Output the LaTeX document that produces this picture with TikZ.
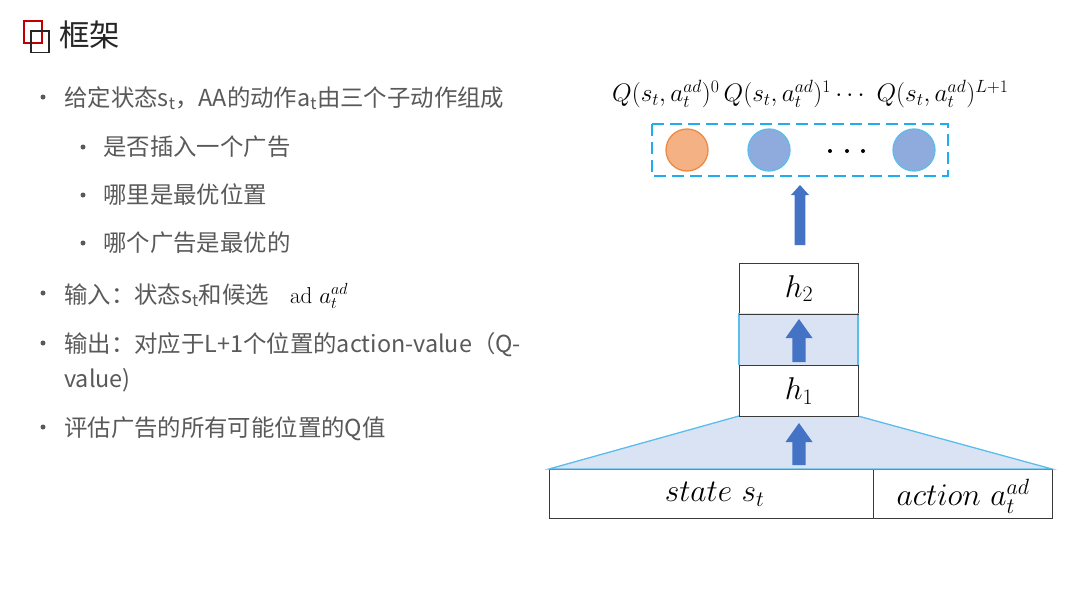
\RequirePackage{fix-cm}
\documentclass[tikz,border=0pt]{standalone}
\usepackage{fontspec}
\newfontfamily\cjk{Noto Sans CJK SC}
\definecolor{txtgray}{HTML}{595959}
\definecolor{titleblack}{HTML}{262626}
\definecolor{iconred}{HTML}{C00000}
\definecolor{boxline}{HTML}{3A3A3A}
\definecolor{cyanline}{HTML}{5BBDEB}
\definecolor{dashcyan}{HTML}{1FAEEB}
\definecolor{shadefill}{HTML}{DAE3F3}
\definecolor{arrowblue}{HTML}{4472C4}
\definecolor{orfill}{HTML}{F4B183}
\definecolor{orline}{HTML}{ED8A45}
\definecolor{blfill}{HTML}{8FAADC}
\newcommand\bluearrow[6]{%
  \fill[arrowblue] ({#1-#4},#3) -- ({#1-#4},{#2+#6}) -- ({#1-#5},{#2+#6}) -- (#1,#2)
    -- ({#1+#5},{#2+#6}) -- ({#1+#4},{#2+#6}) -- ({#1+#4},#3) -- cycle;}
\begin{document}
\begin{tikzpicture}[x=1pt,y=-1pt,
  txt/.style={anchor=base west, inner sep=0pt, text=txtgray, font=\cjk\fontsize{23.4}{28}\selectfont},
  bul/.style={fill=txtgray},
  layer/.style={draw=boxline, line width=1.3pt, fill=white},
  lbl/.style={inner sep=0pt, font=\fontsize{31.5}{36}\selectfont},
  qnode/.style={circle, minimum size=42pt, inner sep=0pt, line width=1.3pt},
]
\useasboundingbox (0,0) rectangle (1080,608);
\fill[white] (0,0) rectangle (1080,608);

% title
\draw[iconred, line width=1.6pt] (24,21) rectangle (42,43);
\draw[titleblack, line width=1.6pt] (31,31) rectangle (49,52.5);
\node[anchor=base west, inner sep=0pt, text=titleblack, font=\cjk\fontsize{30.5}{34}\selectfont] (title) at (59,46) {框架};

% bullets
\fill[bul] (43,97) circle[radius=2.5pt];
\node[txt] (b1) at (64,106) {给定状态s\textsubscript{t}，AA的动作a\textsubscript{t}由三个子动作组成};
\fill[bul] (83,147) circle[radius=2.5pt];
\node[txt] (b11) at (103,155) {是否插入一个广告};
\fill[bul] (83,195) circle[radius=2.5pt];
\node[txt] (b12) at (103,203) {哪里是最优位置};
\fill[bul] (83,243) circle[radius=2.5pt];
\node[txt] (b13) at (103,251) {哪个广告是最优的};
\fill[bul] (43,293) circle[radius=2.5pt];
\node[txt] (b2) at (64,303) {输入：状态s\textsubscript{t}和候选\hspace{21pt}{\color{black}\rmfamily\fontsize{23}{27}\selectfont ad $a_t^{ad}$}};
\fill[bul] (43,343) circle[radius=2.5pt];
\node[txt] (b3) at (64,352) {输出：对应于L+1个位置的action-value（Q-};
\node[txt] (b3b) at (64,387) {value)};
\fill[bul] (43,427) circle[radius=2.5pt];
\node[txt] (b4) at (64,436) {评估广告的所有可能位置的Q值};

% Q labels
\node[anchor=west, inner sep=0pt, font=\fontsize{25.3}{29}\selectfont] (qlab) at (612,94)
  {$Q(s_t,a_t^{ad})^0\,Q(s_t,a_t^{ad})^1\cdots\ Q(s_t,a_t^{ad})^{L+1}$};

% output layer
\draw[dashcyan, line width=2.8pt, dash pattern=on 12pt off 6pt] (652,124) rectangle (948,176);
\node[qnode, fill=orfill, draw=orline] (q0) at (687,150) {};
\node[qnode, fill=blfill, draw=cyanline] (q1) at (769,150) {};
\node[qnode, fill=blfill, draw=cyanline] (qL) at (914,150) {};
\foreach \xx in {830,847,863} \fill[black] (\xx,151) circle[radius=2pt];
\bluearrow{800}{185}{245}{5.4}{9}{10}

% h2 / shade / h1
\node[layer, minimum width=119pt, minimum height=50pt, anchor=north west] (h2) at (739,263) {};
\node[lbl] at (h2.center) {$h_2$};
\fill[shadefill] (739,313) rectangle (858,365);
\draw[cyanline, line width=1.3pt] (739,313) -- (739,365) (858,313) -- (858,365);
\bluearrow{799}{319}{362}{6.7}{13.5}{19}

% input boxes
\node[layer, minimum width=324pt, minimum height=49pt, anchor=north west] (state) at (549,469) {};
\node[layer, minimum width=179pt, minimum height=49pt, anchor=north west] (action) at (873,469) {};
\node[lbl] at ([xshift=3pt]state.center) {$state\ s_t$};
\node[lbl] at ([yshift=-2pt]action.center) {$action\ a_t^{ad}$};

% trapezoid
\fill[shadefill] (739,416) -- (858,416) -- (1052,469) -- (549,469) -- cycle;
\draw[cyanline, line width=1.3pt] (739,416) -- (549,469) -- (1052,469) -- (858,416);
\bluearrow{799}{423}{465}{6.7}{13.5}{19}

\node[layer, minimum width=119pt, minimum height=51pt, anchor=north west] (h1) at (739,365) {};
\node[lbl] at (h1.center) {$h_1$};
\draw[boxline, line width=1.3pt] (h2.south west) -- (h2.south east);
\end{tikzpicture}
\end{document}
